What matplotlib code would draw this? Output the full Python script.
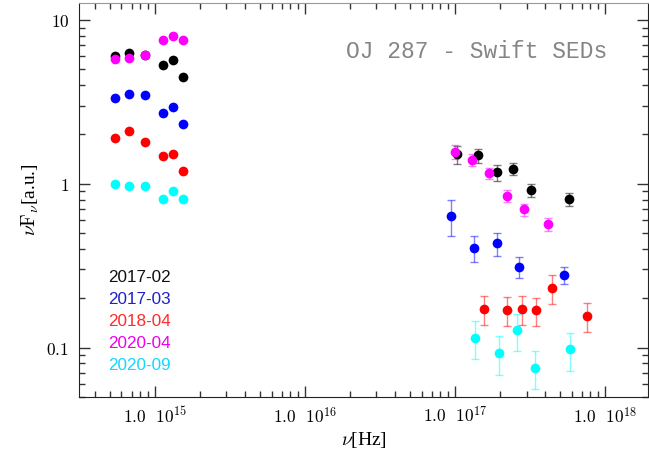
import matplotlib
matplotlib.use("Agg")
import matplotlib.pyplot as plt
import numpy as np
from matplotlib.ticker import FixedLocator, LogLocator, NullFormatter, FuncFormatter

plt.rcParams['mathtext.fontset'] = 'cm'

# UVOT filter frequencies (V, B, U, W1, M2, W2) [Hz]
uvot_nu = [5.41e14, 6.74e14, 8.58e14, 1.143e15, 1.324e15, 1.544e15]

# optical/UV fluxes per epoch
uv_1702 = [6.03, 6.29, 6.10, 5.30, 5.68, 4.47]
uv_1703 = [3.36, 3.52, 3.50, 2.69, 2.96, 2.33]
uv_1804 = [1.91, 2.09, 1.79, 1.475, 1.52, 1.20]
uv_2004 = [5.81, 5.84, 6.15, 7.50, 7.96, 7.50]
uv_2009 = [1.00, 0.97, 0.963, 0.813, 0.898, 0.805]

# X-ray points: frequency, flux, lower and upper error-bar ends
xr_nu_1702 = [1.036e17, 1.416e17, 1.897e17, 2.425e17, 3.20e17, 5.75e17]
xr_f_1702 = [1.511, 1.490, 1.172, 1.228, 0.914, 0.810]
xr_lo_1702 = [1.325, 1.344, 1.033, 1.124, 0.833, 0.734]
xr_hi_1702 = [1.698, 1.637, 1.307, 1.344, 1.000, 0.881]

xr_nu_1703 = [9.40e16, 1.34e17, 1.905e17, 2.67e17, 5.35e17]
xr_f_1703 = [0.640, 0.408, 0.433, 0.312, 0.276]
xr_lo_1703 = [0.481, 0.335, 0.363, 0.267, 0.245]
xr_hi_1703 = [0.798, 0.481, 0.504, 0.356, 0.309]

xr_nu_1804 = [1.567e17, 2.21e17, 2.78e17, 3.48e17, 4.45e17, 7.55e17]
xr_f_1804 = [0.172, 0.1696, 0.171, 0.1696, 0.230, 0.155]
xr_lo_1804 = [0.1373, 0.1353, 0.1373, 0.1359, 0.1835, 0.1244]
xr_hi_1804 = [0.2066, 0.2037, 0.2066, 0.2008, 0.276, 0.187]

xr_nu_2004 = [1.00e17, 1.30e17, 1.70e17, 2.21e17, 2.88e17, 4.19e17]
xr_f_2004 = [1.561, 1.394, 1.161, 0.845, 0.699, 0.566]
xr_lo_2004 = [1.422, 1.281, 1.067, 0.772, 0.634, 0.518]
xr_hi_2004 = [1.716, 1.511, 1.253, 0.919, 0.755, 0.620]

xr_nu_2009 = [1.366e17, 1.97e17, 2.58e17, 3.43e17, 5.82e17]
xr_f_2009 = [0.1148, 0.0929, 0.128, 0.0752, 0.0974]
xr_lo_2009 = [0.0851, 0.0682, 0.0947, 0.0557, 0.0718]
xr_hi_2009 = [0.1453, 0.1175, 0.1603, 0.0952, 0.1227]

labels = ['2017-02', '2017-03', '2018-04', '2020-04', '2020-09']
colors = ['black', 'blue', 'red', 'magenta', 'cyan']
text_colors = ['#111111', '#2020c8', '#ff2a2a', '#ee00ee', '#10d8ff']

epochs = [
    (uv_1702, xr_nu_1702, xr_f_1702, xr_lo_1702, xr_hi_1702),
    (uv_1703, xr_nu_1703, xr_f_1703, xr_lo_1703, xr_hi_1703),
    (uv_1804, xr_nu_1804, xr_f_1804, xr_lo_1804, xr_hi_1804),
    (uv_2004, xr_nu_2004, xr_f_2004, xr_lo_2004, xr_hi_2004),
    (uv_2009, xr_nu_2009, xr_f_2009, xr_lo_2009, xr_hi_2009),
]

fig = plt.figure(figsize=(6.49, 4.55), dpi=100)
ax = fig.add_axes([0.1217, 0.1275, 0.8768, 0.8666])

for (uv, xnu, xf, xlo, xhi), col in zip(epochs, colors):
    ax.plot(uvot_nu, uv, 'o', color=col, ms=7, mec='none', zorder=3)
    xf = np.array(xf)
    yerr = [xf - np.array(xlo), np.array(xhi) - xf]
    ax.errorbar(xnu, xf, yerr=yerr, fmt='none', ecolor=col, alpha=0.5,
                elinewidth=1, capsize=3, capthick=1, zorder=2)
    ax.plot(xnu, xf, 'o', color=col, ms=7, mec='none', zorder=3)

ax.set_xscale('log')
ax.set_yscale('log')
ax.set_xlim(3.126e14, 1.936e18)
ax.set_ylim(0.0499, 12.76)

ax.xaxis.set_major_locator(FixedLocator([1e15, 1e16, 1e17, 1e18]))
ax.xaxis.set_major_formatter(FuncFormatter(
    lambda v, p: r'$1.0\ \ 10^{%d}$' % int(round(np.log10(v)))))
ax.xaxis.set_minor_locator(LogLocator(base=10, subs=np.arange(2, 10), numticks=20))
ax.xaxis.set_minor_formatter(NullFormatter())

ax.yaxis.set_major_locator(FixedLocator([0.1, 1, 10]))
ax.yaxis.set_major_formatter(FuncFormatter(
    lambda v, p: {0.1: r'$0.1$', 1: r'$1$', 10: r'$10$'}.get(round(v, 3), '')))
ax.yaxis.set_minor_locator(LogLocator(base=10, subs=np.arange(2, 10), numticks=20))
ax.yaxis.set_minor_formatter(NullFormatter())

ax.tick_params(which='both', direction='in', top=True, right=True,
               color='#333333', labelsize=12.5, pad=7)
ax.tick_params(which='major', length=8, width=1)
ax.tick_params(which='minor', length=4, width=1)

for side in ['left', 'bottom', 'right']:
    ax.spines[side].set_color('#222222')
ax.spines['top'].set_color('#999999')

ax.set_xlabel(r'$\nu$[Hz]', fontsize=14, labelpad=2, family='Liberation Serif')
ax.set_ylabel(r'$\nu\mathrm{F}_\nu$[a.u.]', fontsize=14, labelpad=4,
              family='Liberation Serif')

ax.text(0.929, 0.876, 'OJ 287 - Swift SEDs', transform=ax.transAxes,
        ha='right', va='center', fontsize=16.5, color='#858585',
        family='Liberation Mono')

for i, (lab, tc) in enumerate(zip(labels, text_colors)):
    ax.text(0.051, 0.3043 - i * 0.0558, lab, transform=ax.transAxes,
            ha='left', va='center', fontsize=12.3, color=tc,
            family='Liberation Sans')

fig.savefig('out.png', dpi=100)
